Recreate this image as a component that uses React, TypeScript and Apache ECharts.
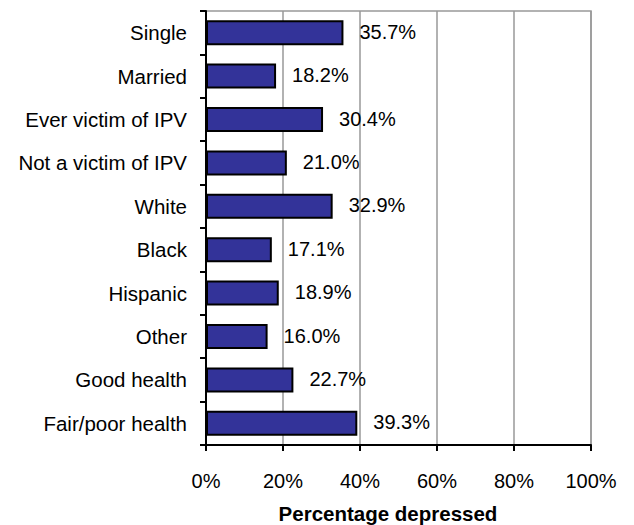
import React, { useEffect, useRef } from "react";
import * as echarts from "echarts";

const categories = [
  "Single",
  "Married",
  "Ever victim of IPV",
  "Not a victim of IPV",
  "White",
  "Black",
  "Hispanic",
  "Other",
  "Good health",
  "Fair/poor health",
];
const values = [35.7, 18.2, 30.4, 21.0, 32.9, 17.1, 18.9, 16.0, 22.7, 39.3];
const axisTitle = "Percentage depressed";

const FONT = "'Liberation Sans', Arial, sans-serif";

export default function App() {
  const ref = useRef<HTMLDivElement>(null);
  useEffect(() => {
    document.body.style.margin = "0";
    const chart = echarts.init(ref.current!, null, { renderer: "svg" });
    chart.setOption({
      animation: false,
      backgroundColor: "#ffffff",
      textStyle: { fontFamily: FONT },
      grid: {
        left: 206,
        right: 43,
        top: 11,
        bottom: 80,
        show: true,
        borderColor: "#999999",
        borderWidth: 1.5,
        backgroundColor: "transparent",
      },
      graphic: [
        {
          type: "text",
          x: 388,
          y: 513,
          style: {
            text: axisTitle,
            fontFamily: FONT,
            fontSize: 20.5,
            fontWeight: "bold",
            fill: "#000",
            align: "center",
            verticalAlign: "middle",
          },
        },
      ],
      xAxis: {
        type: "value",
        min: 0,
        max: 100,
        interval: 20,
        axisLine: { show: true, lineStyle: { color: "#000", width: 2 } },
        axisTick: { show: true, length: 6, lineStyle: { color: "#000", width: 2 } },
        axisLabel: {
          formatter: "{value}%",
          fontFamily: FONT,
          fontSize: 20,
          color: "#000",
          margin: 26,
        },
        splitLine: { show: true, lineStyle: { color: "#999999", width: 1.5 } },
      },
      yAxis: {
        type: "category",
        data: categories,
        inverse: true,
        axisLine: { show: true, lineStyle: { color: "#000", width: 2 } },
        axisTick: { show: true, length: 6, lineStyle: { color: "#000", width: 2 } },
        axisLabel: {
          fontFamily: FONT,
          fontSize: 20.5,
          color: "#000",
          margin: 19,
        },
        splitLine: { show: false },
      },
      series: [
        {
          type: "bar",
          data: values,
          barWidth: 25,
          itemStyle: {
            color: "#333399",
            borderColor: "#000",
            borderWidth: 2,
          },
          label: {
            show: true,
            position: "right",
            distance: 16,
            offset: [0, -1],
            formatter: (p: any) => p.value.toFixed(1) + "%",
            fontFamily: FONT,
            fontSize: 20,
            color: "#000",
          },
        },
      ],
    });
    return () => chart.dispose();
  }, []);
  return <div ref={ref} style={{ width: 634, height: 525 }} />;
}
